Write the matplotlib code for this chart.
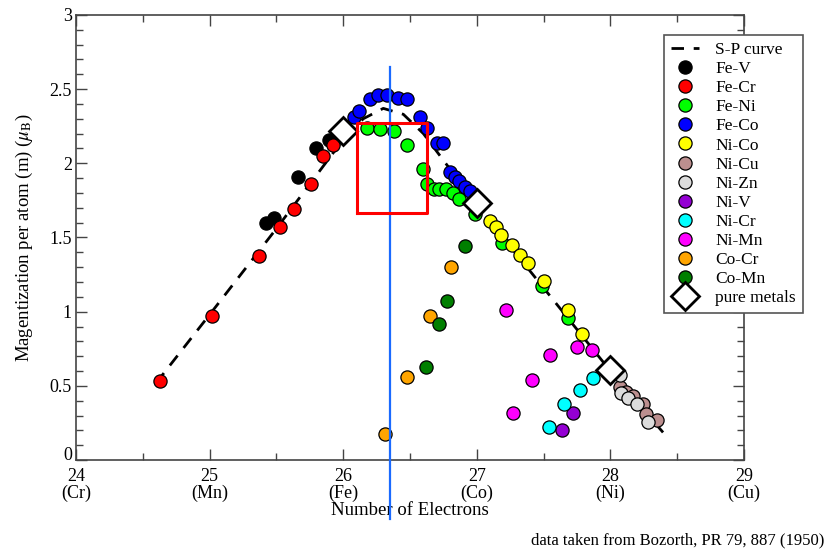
import matplotlib
matplotlib.use("Agg")
import matplotlib.pyplot as plt
import matplotlib.transforms as mtransforms
from matplotlib.ticker import MultipleLocator

plt.rcParams['font.family'] = ['Liberation Serif', 'DejaVu Serif']
plt.rcParams['mathtext.fontset'] = 'stix'

# Slater-Pauling curve
sp_x = [24.6, 25.0, 25.5, 26.0, 26.15, 26.3, 26.45, 26.6, 26.8, 27.0, 27.5, 28.0, 28.4]
sp_y = [0.52, 0.98, 1.56, 2.16, 2.30, 2.37, 2.33, 2.20, 1.96, 1.72, 1.16, 0.60, 0.18]

series = [
    ("Fe-V", "black",
     [25.42, 25.48, 25.66, 25.80, 25.89],
     [1.60, 1.63, 1.91, 2.10, 2.16]),
    ("Fe-Cr", "#ff0000",
     [24.63, 25.02, 25.37, 25.53, 25.63, 25.76, 25.85, 25.92],
     [0.53, 0.97, 1.375, 1.57, 1.69, 1.86, 2.05, 2.12]),
    ("Fe-Ni", "#00ff00",
     [26.18, 26.275, 26.38, 26.475, 26.595, 26.625, 26.68, 26.72, 26.77, 26.82, 26.87, 26.99, 27.19, 27.49, 27.685],
     [2.24, 2.23, 2.22, 2.12, 1.96, 1.86, 1.83, 1.83, 1.83, 1.80, 1.76, 1.66, 1.46, 1.17, 0.955]),
    ("Fe-Co", "#0000ff",
     [26.08, 26.12, 26.20, 26.26, 26.33, 26.41, 26.48, 26.575, 26.63, 26.70, 26.75, 26.80, 26.84, 26.87, 26.91, 26.95],
     [2.315, 2.35, 2.43, 2.46, 2.46, 2.44, 2.43, 2.315, 2.24, 2.14, 2.14, 1.94, 1.91, 1.88, 1.84, 1.81]),
    ("Ni-Co", "#ffff00",
     [27.10, 27.14, 27.18, 27.26, 27.32, 27.385, 27.50, 27.685, 27.79],
     [1.61, 1.57, 1.52, 1.45, 1.38, 1.33, 1.21, 1.01, 0.85]),
    ("Ni-Cu", "#bc8f8f",
     [28.07, 28.12, 28.17, 28.245, 28.27, 28.35],
     [0.49, 0.46, 0.43, 0.38, 0.31, 0.27]),
    ("Ni-Zn", "#dcdcdc",
     [28.07, 28.08, 28.13, 28.20, 28.28],
     [0.57, 0.45, 0.42, 0.38, 0.26]),
    ("Ni-V", "#9400d3",
     [27.72, 27.635],
     [0.32, 0.20]),
    ("Ni-Cr", "#00ffff",
     [27.54, 27.65, 27.77, 27.87],
     [0.22, 0.38, 0.47, 0.55]),
    ("Ni-Mn", "#ff00ff",
     [27.22, 27.55, 27.415, 27.27, 27.75, 27.86],
     [1.01, 0.71, 0.54, 0.32, 0.76, 0.74]),
    ("Co-Cr", "#ffa500",
     [26.81, 26.65, 26.48, 26.31],
     [1.30, 0.97, 0.56, 0.175]),
    ("Co-Mn", "#007f00",
     [26.91, 26.78, 26.72, 26.62],
     [1.44, 1.07, 0.92, 0.63]),
]

pure_x = [26.0, 27.0, 28.0]
pure_y = [2.22, 1.73, 0.61]

xticks = [24, 25, 26, 27, 28, 29]
xticklabels = ["24\n(Cr)", "25\n(Mn)", "26\n(Fe)", "27\n(Co)", "28\n(Ni)", "29\n(Cu)"]
yticks = [0, 0.5, 1, 1.5, 2, 2.5, 3]
yticklabels = ["0", "0.5", "1", "1.5", "2", "2.5", "3"]

line_x = 26.35
line_y = [-0.40, 2.65]
rect_x = [26.10, 26.63]
rect_y = [1.665, 2.27]

fig = plt.figure(figsize=(8.39, 5.51), dpi=100)
ax = fig.add_axes([0.0906, 0.165, 0.7962, 0.808])

ax.plot(sp_x, sp_y, ls=(0, (4.5, 3.5)), color='black', lw=2, label='S-P curve', zorder=2)
for name, col, xs, ys in series:
    ax.plot(xs, ys, ls='none', marker='o', ms=9.5, mfc=col, mec='black', mew=0.9,
            label=name, zorder=3)
ax.plot(pure_x, pure_y, ls='none', marker='D', ms=14, mfc='white', mec='black', mew=2,
        label='pure metals', zorder=4)

ax.plot([line_x, line_x], line_y, color='#1a6aff', lw=1.6, clip_on=False, zorder=5)
ax.plot([rect_x[0], rect_x[1], rect_x[1], rect_x[0], rect_x[0]],
        [rect_y[0], rect_y[0], rect_y[1], rect_y[1], rect_y[0]],
        color='#ff0000', lw=2.2, zorder=5)

ax.set_xlim(24, 29)
ax.set_ylim(0, 3)
ax.set_xticks(xticks)
ax.set_xticklabels(xticklabels, fontsize=13, linespacing=0.95)
ax.set_yticks(yticks)
ax.set_yticklabels(yticklabels, fontsize=13)
ax.xaxis.set_minor_locator(MultipleLocator(0.5))
ax.yaxis.set_minor_locator(MultipleLocator(0.1))
ax.tick_params(which='both', direction='in', top=True, right=True, colors='#444444',
               labelcolor='black')
ax.tick_params(which='major', length=8, width=1)
ax.tick_params(which='minor', length=5, width=1)
ax.tick_params(axis='x', which='major', pad=6)
ax.tick_params(axis='y', which='major', pad=3)
for s in ax.spines.values():
    s.set_color('#444444')
    s.set_linewidth(1.2)

# nudge the "0" label up a little so it sits just above the "24" label
zero_lbl = ax.yaxis.get_major_ticks()[0].label1
zero_lbl.set_transform(zero_lbl.get_transform() +
                       mtransforms.ScaledTranslation(0, 5 / 72, fig.dpi_scale_trans))

ax.set_xlabel("Number of Electrons", fontsize=13.5, labelpad=0)
ax.set_ylabel(r"Magentization per atom (m) ($\mu_\mathrm{B}$)", fontsize=13.5, labelpad=10)

leg = ax.legend(loc='upper right', bbox_to_anchor=(1.088, 0.955), borderaxespad=0,
                fontsize=12.5, labelspacing=0.17, handlelength=1.6, handletextpad=0.95,
                fancybox=False, framealpha=1, edgecolor='#555555', borderpad=0.4)
leg.get_frame().set_linewidth(1.2)
leg.set_zorder(10)

fig.text(0.983, 0.004, "data taken from Bozorth, PR 79, 887 (1950)", ha='right', va='bottom',
         fontsize=12)

fig.savefig("out.png", dpi=100)
